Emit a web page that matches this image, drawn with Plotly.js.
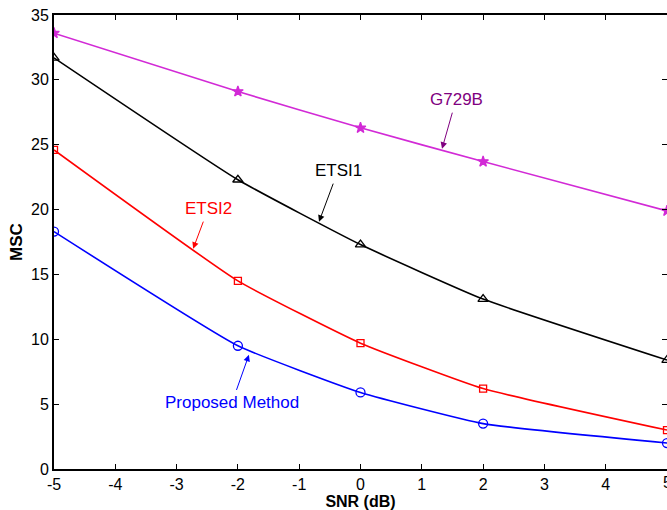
<!DOCTYPE html>
<html>
<head>
<meta charset="utf-8">
<script src="https://cdn.plot.ly/plotly-3.0.1.min.js"></script>
<style>html,body{margin:0;padding:0;background:#fff;}#chart{width:667px;height:510px;}</style>
</head>
<body>
<div id="chart"></div>
<script>
const snr = [-5, -2, 0, 2, 5];
const g729b = [33.6, 29.1, 26.3, 23.7, 19.9];
const etsi1 = [31.7, 22.3, 17.3, 13.1, 8.4];
const etsi2 = [24.6, 14.5, 9.7, 6.2, 3.0];
const proposed = [18.3, 9.5, 5.9, 3.5, 2.0];
const xTicks = [-5, -4, -3, -2, -1, 0, 1, 2, 3, 4, 5];
const yTicks = [0, 5, 10, 15, 20, 25, 30, 35];

const FONT = 'Liberation Sans, Arial, sans-serif';
function tr(y, color, symbol, size) {
  return {x: snr, y: y, type: 'scatter', mode: 'lines+markers',
    line: {color: color, width: 1.6, shape: 'spline', smoothing: 0.4},
    marker: {symbol: symbol, size: size, color: color, line: {color: color, width: 1.3}}};
}
const data = [
  tr(g729b, '#d22ad6', 'star', 8),
  tr(etsi1, '#000000', 'triangle-up-open', 9),
  tr(etsi2, '#ff0000', 'square-open', 7),
  tr(proposed, '#0000ff', 'circle-open', 9)
];
function ann(x, y, text, color, ax, ay) {
  return {x: x, y: y, xref: 'x', yref: 'y', text: text, showarrow: true,
    ax: ax, ay: ay, arrowcolor: color, arrowhead: 2, arrowsize: 1.3, arrowwidth: 1,
    font: {family: FONT, size: 17, color: color}, standoff: 0, startstandoff: 2};
}
const layout = {
  width: 667, height: 510,
  margin: {l: 54, r: 0, t: 15, b: 41},
  paper_bgcolor: '#fff', plot_bgcolor: '#fff',
  showlegend: false,
  font: {family: FONT, size: 16, color: '#000'},
  xaxis: {range: [-5, 5], tickvals: xTicks, ticktext: xTicks.map(String),
    ticks: 'inside', ticklen: 5, tickwidth: 1, tickcolor: '#000',
    showline: true, linecolor: '#000', linewidth: 2, mirror: 'ticks',
    showgrid: false, zeroline: false,
    tickfont: {family: FONT, size: 16},
    title: {text: '<b>SNR (dB)</b>', font: {family: FONT, size: 16}, standoff: 4}},
  yaxis: {range: [0, 35], tickvals: yTicks, ticktext: yTicks.map(String),
    ticks: 'inside', ticklen: 5, tickwidth: 1, tickcolor: '#000',
    showline: true, linecolor: '#000', linewidth: 2, mirror: 'ticks',
    showgrid: false, zeroline: false,
    tickfont: {family: FONT, size: 16},
    title: {text: '<b>MSC</b>', font: {family: FONT, size: 17}, standoff: 4}},
  annotations: [
    ann(1.33, 24.69, 'G729B', '#800080', 14, -49),
    ann(-0.677, 19.06, 'ETSI1', '#000000', 19, -51),
    ann(-2.73, 16.98, 'ETSI2', '#ff0000', 15, -40),
    ann(-1.82, 8.80, 'Proposed Method', '#0000ff', -17, 48),
    {x: 5, y: 0, xref: 'x', yref: 'y', text: String(xTicks[xTicks.length - 1]),
      showarrow: false, yanchor: 'top', xanchor: 'center', yshift: -3,
      font: {family: FONT, size: 16, color: '#000'}}
  ]
};
Plotly.newPlot('chart', data, layout, {displayModeBar: false, staticPlot: true});
</script>
</body>
</html>
